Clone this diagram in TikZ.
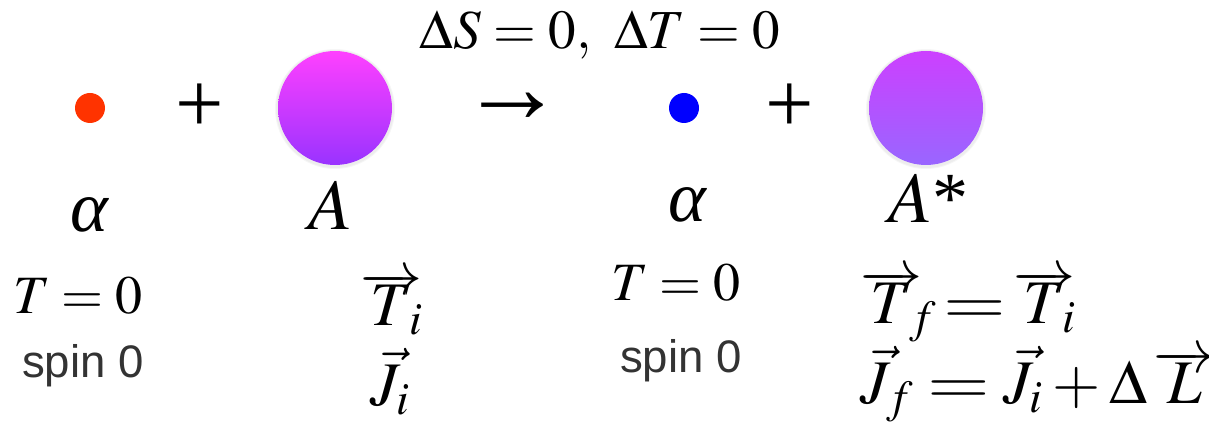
\documentclass[tikz,border=0pt]{standalone}
\usepackage{fontspec}
\usepackage{amsmath}
\usepackage{mathptmx}
\usepackage{graphicx}
\usepackage{tikz}
\usetikzlibrary{positioning}
\newfontfamily\spinfont{Liberation Sans}
\newfontfamily\seriffont{Liberation Serif}
\definecolor{alphaRed}{HTML}{FF3300}
\definecolor{alphaBlue}{HTML}{0000FF}
\definecolor{nuclTop}{HTML}{FF40FF}
\definecolor{nuclBot}{HTML}{9933FF}
\definecolor{exTop}{HTML}{CC40FF}
\definecolor{exBot}{HTML}{9966FF}
\definecolor{spinGrey}{HTML}{333333}
% long arrow set close above its argument
\makeatletter
\newcommand{\tvec}[1]{\mathord{\vbox{\m@th\ialign{##\crcr
  \rightarrowfill@\displaystyle\crcr
  \noalign{\nointerlineskip\kern-5pt}
  $\hfil\displaystyle#1\hfil$\crcr}}}}
\makeatother
\newcommand{\wideeq}{\mathrel{\scalebox{1.3}[1]{$=$}}}
\newcommand{\galpha}{{\seriffont\itshape α}}

\begin{document}
\begin{tikzpicture}[
  x=0.5pt,y=-0.5pt,
  dot/.style={circle,inner sep=0pt,minimum size=15pt},
  nucl/.style={circle,inner sep=0pt,minimum size=57pt,shading=axis},
  halo/.style={circle,inner sep=0pt,fill=black,opacity=0.035},
  big/.style={anchor=base,inner sep=0pt,font=\fontsize{36}{40}\selectfont},
  eqn/.style={anchor=base,inner sep=0pt,font=\fontsize{27}{32}\selectfont},
  veq/.style={anchor=base,inner sep=0pt,font=\fontsize{31}{36}\selectfont},
  op/.style={inner sep=0pt,font=\seriffont\fontsize{43}{48}\selectfont},
  spin/.style={anchor=base,inner sep=0pt,text=spinGrey,
               font=\spinfont\fontsize{22.8}{26}\selectfont},
]
  \useasboundingbox (0,0) rectangle (1209,438);

  % top condition
  \node[eqn,font=\fontsize{27.5}{32}\selectfont] (cond) at (600,49)
    {$\Delta S=0,\ \Delta T=0$};

  % particles
  \node[dot,fill=alphaRed] (a1) at (90,108) {};
  \node[op] (plus1) at (200,108) {+};
  \node[halo,minimum size=60pt] at (335,109) {};
  \node[halo,minimum size=59pt] at (335,109) {};
  \node[nucl,top color=nuclTop,bottom color=nuclBot] (A1) at (335,108) {};
  \node[op,font=\seriffont\fontsize{52}{58}\selectfont] (arrow) at (512,108) {→};
  \node[dot,fill=alphaBlue] (a2) at (684,108) {};
  \node[op] (plus2) at (790,108) {+};
  \node[halo,minimum size=60pt] at (926,109) {};
  \node[halo,minimum size=59pt] at (926,109) {};
  \node[nucl,top color=exTop,bottom color=exBot] (A2) at (926,108) {};

  % names
  \node[big] (la1) at (89,232) {\galpha};
  \node[big] (lA1) at (330,229) {$A$};
  \node[big] (la2) at (687,222) {\galpha};
  \node[big] (lA2) at (928,223) {$A${\seriffont *}};

  % quantum numbers
  \node[eqn] (t1) at (78,313) {$T=0$};
  \node[spin] (s1) at (83,377) {spin 0};
  \node[eqn] (t2) at (676,300) {$T=0$};
  \node[spin] (s2) at (681,372) {spin 0};

  \node[veq] (ti) at (392,325) {$\tvec{T}_{\mkern-5mu i}$};
  \node[veq] (ji) at (390,405) {$\vec{J}_{i}$};

  \node[veq,anchor=base west] (tf) at (860,323)
    {$\tvec{T}_{\mkern-5mu f}\mkern-2mu\wideeq\mkern-2mu\tvec{T}_{\mkern-5mu i}$};
  \node[veq,anchor=base west] (jf) at (860,403)
    {$\vec{J}_{f}\wideeq\vec{J}_{i}+\Delta\mkern2mu\tvec{L}$};
\end{tikzpicture}
\end{document}
